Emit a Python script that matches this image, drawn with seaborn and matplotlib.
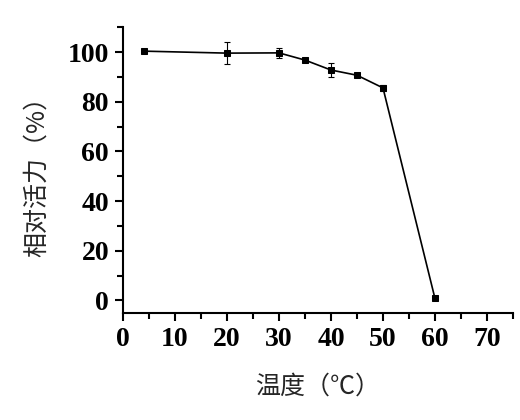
import numpy as np
import pandas as pd
import seaborn as sns
import matplotlib
matplotlib.use("Agg")
import matplotlib.pyplot as plt
from matplotlib.ticker import MultipleLocator

# data
temperature = [4, 20, 30, 35, 40, 45, 50, 60]
activity = [100.4, 99.6, 99.7, 96.8, 92.8, 90.7, 85.6, 0.8]
error = [0.5, 4.3, 2.1, 0.6, 3.0, 0.6, 1.2, 0.3]

sns.set_style("ticks")
plt.rcParams['font.family'] = ['Noto Sans CJK SC', 'DejaVu Sans']

df = pd.DataFrame({'temp': temperature, 'act': activity, 'err': error})

fig = plt.figure(figsize=(5.2, 4.2), dpi=100)
ax = fig.add_axes([0.2365, 0.255, 0.75, 0.68])

sns.lineplot(data=df, x='temp', y='act', ax=ax, color='black', lw=1.2,
             marker='s', markersize=5, markeredgecolor='black', markerfacecolor='black')
ax.errorbar(df['temp'], df['act'], yerr=df['err'], fmt='none', ecolor='black',
            elinewidth=0.8, capsize=2.5, capthick=0.8)

ax.set_xlim(0, 75)
ax.set_ylim(-5, 110)
ax.xaxis.set_major_locator(MultipleLocator(10))
ax.xaxis.set_minor_locator(MultipleLocator(5))
ax.yaxis.set_major_locator(MultipleLocator(20))
ax.yaxis.set_minor_locator(MultipleLocator(10))
ax.set_yticks(range(0, 101, 20))

sns.despine(ax=ax)
for s in ['left', 'bottom']:
    ax.spines[s].set_linewidth(1.5)
    ax.spines[s].set_color('black')
ax.tick_params(which='major', direction='out', length=6, width=1.5, colors='black', pad=4)
ax.tick_params(which='minor', direction='out', length=4, width=1.5, colors='black')
for lab in ax.get_xticklabels() + ax.get_yticklabels():
    lab.set_fontfamily('Liberation Serif')
    lab.set_fontweight('bold')
    lab.set_fontsize(20)

ax.set_xlabel('温度（℃）', fontsize=18, labelpad=16)
ax.set_ylabel('相对活力（%）', fontsize=18, labelpad=13)

fig.savefig('out.png', dpi=100)
